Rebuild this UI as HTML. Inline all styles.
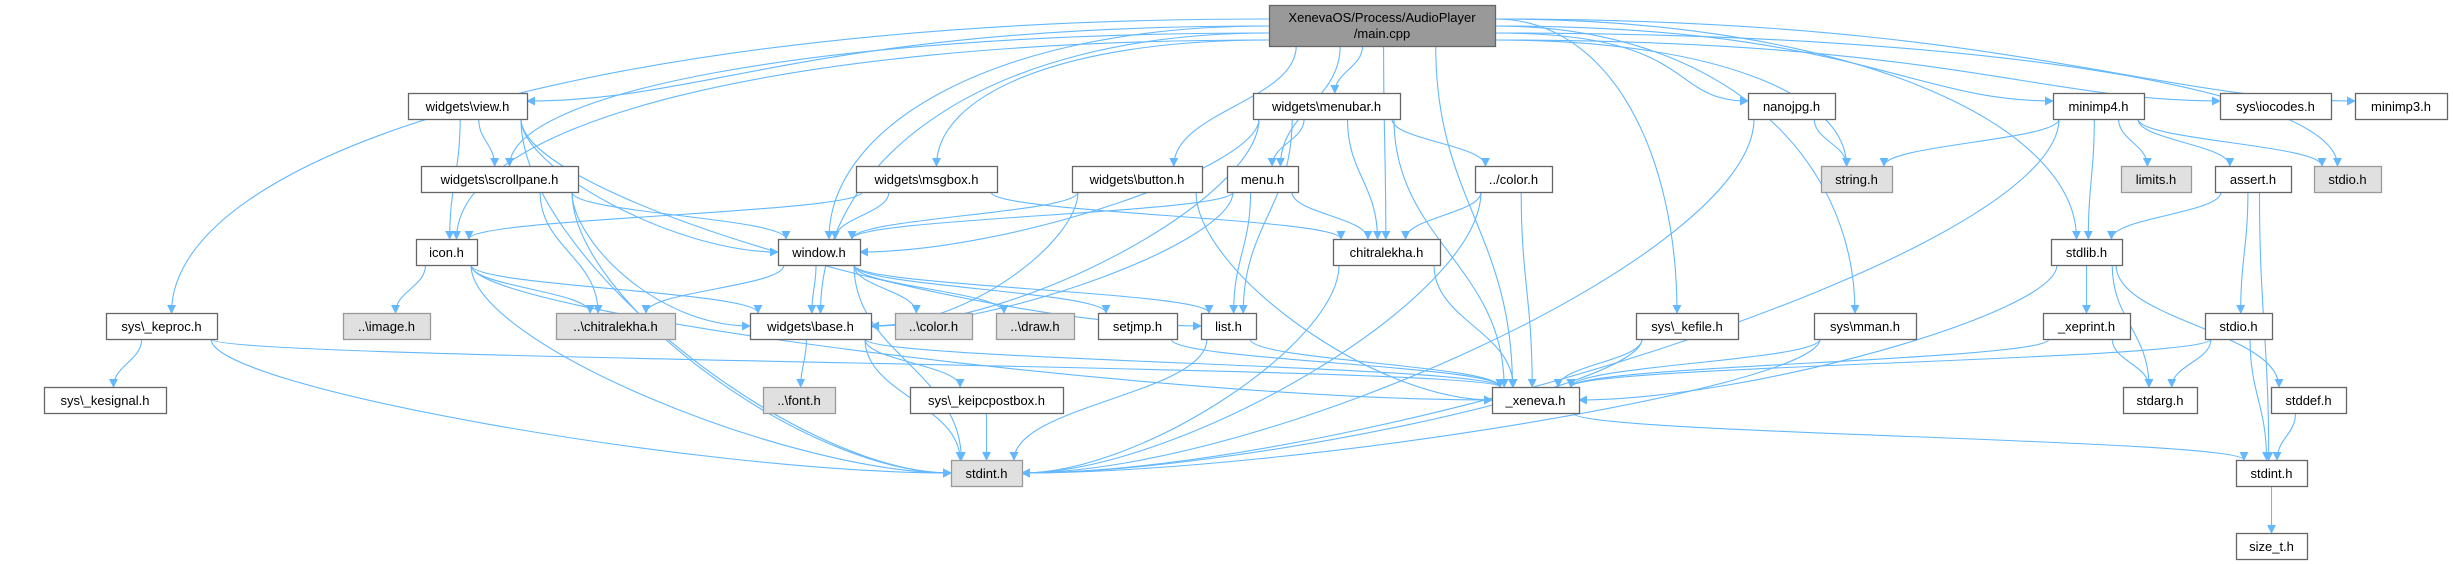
<!DOCTYPE html>
<html><head><meta charset="utf-8"><style>
html,body{margin:0;padding:0;background:#fff;}
svg{display:block;}
text{font-family:"Liberation Sans","DejaVu Sans",sans-serif;font-size:13px;fill:#000;}
</style></head><body>
<svg id="g" width="2453" height="564" viewBox="0 0 2453 564" xmlns="http://www.w3.org/2000/svg">
<defs><marker id="a" viewBox="0 0 10 10" refX="9" refY="5" markerWidth="9" markerHeight="9" markerUnits="userSpaceOnUse" orient="auto"><path d="M0,0L10,5L0,10z" fill="#63b8ff"/></marker></defs>
<g id="e" fill="none" stroke="#63b8ff" stroke-width="1.1"></g>
<g id="n"></g>
</svg>
<script>
var R=[0,93,166,239,313,387,460,533],H=26;
var N={
main:[1269,1495,5,46,'m',['XenevaOS/Process/AudioPlayer','/main.cpp']],
view:[408,527,1],menubar:[1253,1400,1],nanojpg:[1748,1835,1],minimp4:[2053,2144,1],iocodes:[2220,2331,1],minimp3:[2355,2447,1],
scroll:[421,578,2],msgbox:[856,997,2],button:[1072,1202,2],menu:[1227,1298,2],color2:[1475,1552,2],string:[1821,1892,2,'g'],limits:[2121,2191,2,'g'],assert:[2215,2291,2],stdiog:[2314,2381,2,'g'],
icon:[416,477,3],window:[778,860,3],chitra:[1333,1440,3],stdlib:[2051,2122,3],
keproc:[106,217,4],image:[343,430,4,'g'],chitrag:[556,675,4,'g'],base:[750,871,4],colorg:[895,972,4,'g'],draw:[996,1074,4,'g'],setjmp:[1098,1177,4],list:[1201,1256,4],kefile:[1636,1738,4],mman:[1814,1916,4],xeprint:[2043,2130,4],stdio:[2205,2272,4],
kesignal:[44,166,5],font:[763,835,5,'g'],keipc:[910,1063,5],xeneva:[1492,1579,5],stdarg:[2123,2197,5],stddef:[2271,2346,5],
stdintg:[951,1022,6,'g'],stdint:[2236,2307,6],size:[2236,2307,7]};
var L={view:'widgets\\view.h',menubar:'widgets\\menubar.h',nanojpg:'nanojpg.h',minimp4:'minimp4.h',iocodes:'sys\\iocodes.h',minimp3:'minimp3.h',scroll:'widgets\\scrollpane.h',msgbox:'widgets\\msgbox.h',button:'widgets\\button.h',menu:'menu.h',color2:'../color.h',string:'string.h',limits:'limits.h',assert:'assert.h',stdiog:'stdio.h',icon:'icon.h',window:'window.h',chitra:'chitralekha.h',stdlib:'stdlib.h',keproc:'sys\\_keproc.h',image:'..\\image.h',chitrag:'..\\chitralekha.h',base:'widgets\\base.h',colorg:'..\\color.h',draw:'..\\draw.h',setjmp:'setjmp.h',list:'list.h',kefile:'sys\\_kefile.h',mman:'sys\\mman.h',xeprint:'_xeprint.h',stdio:'stdio.h',kesignal:'sys\\_kesignal.h',font:'..\\font.h',keipc:'sys\\_keipcpostbox.h',xeneva:'_xeneva.h',stdarg:'stdarg.h',stddef:'stddef.h',stdintg:'stdint.h',stdint:'stdint.h',size:'size_t.h'};
function box(k){var v=N[k];if(k=='main')return {x1:v[0],x2:v[1],y1:v[2],y2:v[3]};var y=R[v[2]];return {x1:v[0],x2:v[1],y1:y,y2:y+H};}
var E=[['main',['view','scroll','icon','keproc','window','base','msgbox','button','menu','menubar','chitra','xeneva','kefile','mman','nanojpg','string','stdlib','minimp4','stdiog','iocodes','minimp3']],
['view',['scroll','icon','window','list','stdintg']],['scroll',['window','chitrag','base','stdintg']],['icon',['image','chitrag','base','xeneva','stdintg']],
['keproc',['kesignal','xeneva','stdintg']],['msgbox',['window','icon','chitra']],['button',['window','base','xeneva']],['menu',['window','base','list','chitra']],
['menubar',['window','base','menu','list','chitra','color2','xeneva']],['color2',['chitra','xeneva','stdintg']],['window',['chitrag','base','colorg','draw','setjmp','list','stdintg']],
['chitra',['xeneva','stdintg']],['base',['font','keipc','stdintg','xeneva']],['keipc',['stdintg']],['setjmp',['xeneva']],['list',['xeneva','stdintg']],
['kefile',['xeneva','stdintg']],['mman',['xeneva','stdintg']],['nanojpg',['string','stdintg']],['minimp4',['string','limits','assert','stdiog','stdlib','stdintg']],
['assert',['stdlib','stdio','stdint']],['stdlib',['xeprint','stdarg','stddef','xeneva']],['xeprint',['stdarg','xeneva']],['stdio',['stdarg','stdint','xeneva']],
['stddef',['stdint']],['xeneva',['stdint']],['stdint',['size']]];
var eg=document.getElementById('e'),ng=document.getElementById('n'),ns='http://www.w3.org/2000/svg';
function P(d){var p=document.createElementNS(ns,'path');p.setAttribute('d',d);p.setAttribute('marker-end','url(#a)');eg.appendChild(p);}
var cnt=0;
E.forEach(function(e){var s=box(e[0]);e[1].forEach(function(t){var b=box(t);var sc=(s.x1+s.x2)/2,tc=(b.x1+b.x2)/2;
 var sx=Math.max(s.x1+6,Math.min(s.x2-6,sc+(tc-sc)*0.35));var tx=Math.max(b.x1+8,Math.min(b.x2-8,tc+(sc-tc)*0.15));
 if(e[0]=='main'&&t=='stdintg'){P('M1269,30 C700,40 10,70 8,190 L8,380 C20,470 400,475 951,476');return;}
 if(b.y1<=s.y2){var sy=(s.y1+s.y2)/2,ty=(b.y1+b.y2)/2;var fx=tc>sc?s.x2:s.x1,ex=tc>sc?b.x1:b.x2;P('M'+fx+','+sy+' L'+ex+','+ty);return;}
 var sy=s.y2,ty=b.y1;var dy=ty-sy;
 if(Math.abs(tc-sc)>300&&dy>100&&e[0]!='main'){var ex=tc>sc?b.x1:b.x2;var ey=(b.y1+b.y2)/2;P('M'+sx+','+sy+' C'+sx+','+(sy+dy*0.4)+' '+(ex+(sc-tc)*0.3)+','+ey+' '+ex+','+ey);return;}
 if(e[0]=='main'&&Math.abs(tc-sc)>250){var fx=tc>sc?s.x2:s.x1;cnt++;var fy=s.y1+14+(cnt*7)%28;
   var ex=tc>sc?Math.min(b.x2-6,tc-10):Math.max(b.x1+6,tc+10);
   if(b.y1<120){ex=tc>sc?b.x1:b.x2;P('M'+fx+','+fy+' C'+(fx+(tc-sc)*0.5)+','+fy+' '+(ex-(tc-sc)*0.2)+','+(b.y1+8)+' '+ex+','+(b.y1+8));return;}
   P('M'+fx+','+fy+' C'+(fx+(tc-fx)*0.6)+','+fy+' '+ex+','+(ty-dy*0.6)+' '+ex+','+ty);return;}
 P('M'+sx+','+sy+' C'+sx+','+(sy+dy*0.45)+' '+tx+','+(ty-dy*0.45)+' '+tx+','+ty);});});
for(var k in N){var b=box(k),v=N[k];var r=document.createElementNS(ns,'rect');r.setAttribute('x',b.x1+.5);r.setAttribute('y',b.y1+.5);r.setAttribute('width',b.x2-b.x1);r.setAttribute('height',b.y2-b.y1);
 var g=v[3]=='g',m=k=='main';r.setAttribute('fill',m?'#999999':g?'#e0e0e0':'#ffffff');r.setAttribute('stroke',g?'#999999':'#666666');r.setAttribute('stroke-width','1.3');ng.appendChild(r);
 var lines=m?v[5]:[L[k]];lines.forEach(function(s,i){var t=document.createElementNS(ns,'text');t.setAttribute('x',(b.x1+b.x2)/2);t.setAttribute('text-anchor','middle');
 t.setAttribute('y',m?(b.y1+17+i*16):(b.y1+18));t.textContent=s;ng.appendChild(t);});}
</script>
</body></html>
